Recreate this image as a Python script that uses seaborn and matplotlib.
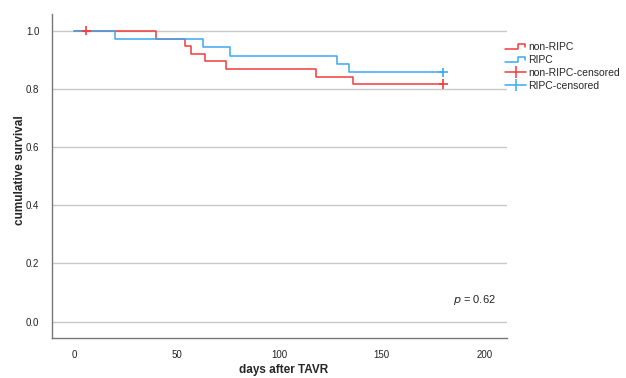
import pandas as pd
import matplotlib
matplotlib.use("Agg")
import matplotlib.pyplot as plt
import seaborn as sns
from matplotlib.lines import Line2D
from matplotlib.legend_handler import HandlerBase

# === data (Kaplan-Meier steps) ===
groups = ["non-RIPC", "RIPC"]
t_non = [0, 40, 54, 57, 64, 74, 118, 136, 180]
s_non = [1.0, 0.972, 0.947, 0.921, 0.895, 0.868, 0.842, 0.816, 0.816]
t_ripc = [0, 20, 63, 76, 128, 134, 180]
s_ripc = [1.0, 0.972, 0.943, 0.914, 0.886, 0.857, 0.857]

# censored points
cens_group = ["non-RIPC", "non-RIPC", "RIPC"]
cens_t = [6, 180, 180]
cens_s = [1.0, 0.816, 0.857]

p_text = "$p$ = 0.62"

colors = {"non-RIPC": "#f23b3b", "RIPC": "#3aa8f2"}

df = pd.concat([
    pd.DataFrame({"group": "non-RIPC", "days": t_non, "surv": s_non}),
    pd.DataFrame({"group": "RIPC", "days": t_ripc, "surv": s_ripc}),
])
df_c = pd.DataFrame({"group": cens_group, "days": cens_t, "surv": cens_s})

sns.set_style("white")
plt.rcParams["font.family"] = ["Liberation Sans", "DejaVu Sans"]

fig = plt.figure(figsize=(6.26, 3.78), dpi=100)
ax = fig.add_axes([0.083, 0.107, 0.727, 0.856])

ax.grid(axis="y", color="#c8c8c8", lw=1)
ax.set_axisbelow(True)

sns.lineplot(data=df, x="days", y="surv", hue="group", palette=colors,
             estimator=None, sort=False, drawstyle="steps-post", lw=1.1,
             legend=False, ax=ax)
sns.scatterplot(data=df_c, x="days", y="surv", hue="group", palette=colors,
                marker="+", s=45, linewidth=1.2, legend=False, ax=ax, zorder=5)

ax.set_xlim(-10.7, 211)
ax.set_ylim(-0.055, 1.057)
ax.set_xticks([0, 50, 100, 150, 200])
ax.set_yticks([0.0, 0.2, 0.4, 0.6, 0.8, 1.0])
ax.set_yticklabels(["0.0", "0.2", "0.4", "0.6", "0.8", "1.0"])
ax.tick_params(length=0, labelsize=7, pad=9, colors="#222222")
for side in ["top", "right"]:
    ax.spines[side].set_visible(False)
for side in ["left", "bottom"]:
    ax.spines[side].set_color("#777777")
    ax.spines[side].set_linewidth(1)

ax.set_xlabel("days after TAVR", fontsize=8.5, fontweight="bold", va="center")
ax.set_ylabel("cumulative survival", fontsize=8.5, fontweight="bold", va="center")
ax.xaxis.set_label_coords(0.51, -0.1)
ax.yaxis.set_label_coords(-0.07, 0.518)

ax.text(0.975, 0.115, p_text, transform=ax.transAxes, ha="right", va="center", fontsize=8)


# step-shaped legend icons
class StepHandler(HandlerBase):
    def create_artists(self, legend, orig_handle, xdescent, ydescent,
                       width, height, fontsize, trans):
        x0 = -xdescent
        y0 = -ydescent
        xs = [x0, x0 + width * 0.6, x0 + width * 0.6, x0 + width * 0.95, x0 + width * 0.95]
        ys = [y0 + height * 0.1, y0 + height * 0.1, y0 + height * 0.8,
              y0 + height * 0.8, y0 + height * 0.4]
        ln = Line2D(xs, ys, color=orig_handle.get_color(), lw=1.1)
        ln.set_transform(trans)
        return [ln]


h_non = Line2D([], [], color=colors["non-RIPC"])
h_ripc = Line2D([], [], color=colors["RIPC"])
h_nc = Line2D([], [], color=colors["non-RIPC"], marker="|", markersize=8, lw=1.1, mew=1.1)
h_rc = Line2D([], [], color=colors["RIPC"], marker="|", markersize=8, lw=1.1, mew=1.1)
fig.legend([h_non, h_ripc, h_nc, h_rc],
           ["non-RIPC", "RIPC", "non-RIPC-censored", "RIPC-censored"],
           handler_map={h_non: StepHandler(), h_ripc: StepHandler()},
           loc="upper left", bbox_to_anchor=(0.807, 0.89), frameon=False,
           fontsize=7.5, handlelength=2.0, handletextpad=0.2, labelspacing=0.3,
           borderaxespad=0, borderpad=0)

fig.savefig("out.png", dpi=100)
